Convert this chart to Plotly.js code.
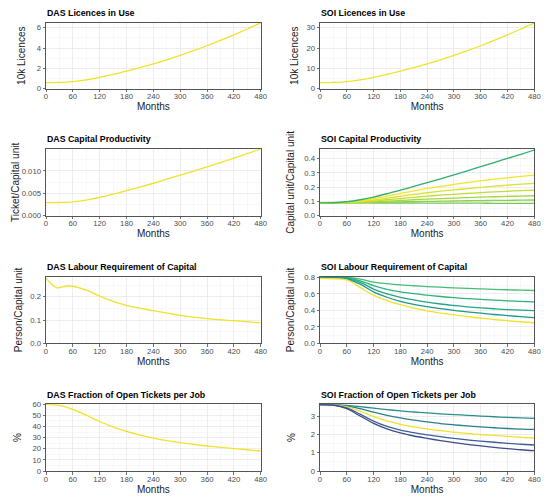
<!DOCTYPE html>
<html><head><meta charset="utf-8">
<script src="https://cdn.plot.ly/plotly-3.0.1.min.js"></script>
<style>html,body{margin:0;padding:0;background:#fff}#chart{width:550px;height:502px}</style>
</head><body><div id="chart"></div>
<script>
// ---------- data ----------
const monthTicks = [0, 60, 120, 180, 240, 300, 360, 420, 480];
const months = [0, 30, 60, 90, 120, 150, 180, 210, 240, 270, 300, 330, 360, 390, 420, 450, 480];

const dasLicences = [0.60, 0.62, 0.70, 0.87, 1.11, 1.40, 1.73, 2.08, 2.45, 2.85, 3.28, 3.74, 4.23, 4.75, 5.30, 5.88, 6.48];
const soiLicences = [3.0, 3.1, 3.5, 4.35, 5.55, 7.0, 8.65, 10.4, 12.25, 14.25, 16.4, 18.7, 21.15, 23.75, 26.5, 29.4, 32.4];

const dasCapProd = [0.00290, 0.00295, 0.00310, 0.00350, 0.00410, 0.00480, 0.00560, 0.00640, 0.00725, 0.00815, 0.00905, 0.00995, 0.01090, 0.01185, 0.01285, 0.01385, 0.01490];
const soiCapProdHigh = [0.090, 0.091, 0.098, 0.112, 0.131, 0.154, 0.179, 0.205, 0.232, 0.259, 0.287, 0.315, 0.344, 0.373, 0.402, 0.431, 0.461];
const soiCapProd1 = [0.090, 0.090, 0.094, 0.104, 0.119, 0.137, 0.156, 0.174, 0.191, 0.206, 0.220, 0.233, 0.245, 0.256, 0.266, 0.276, 0.285];
const soiCapProd2 = [0.090, 0.090, 0.093, 0.100, 0.110, 0.123, 0.136, 0.149, 0.161, 0.172, 0.181, 0.190, 0.199, 0.207, 0.214, 0.221, 0.227];
const soiCapProd3 = [0.090, 0.090, 0.092, 0.096, 0.103, 0.112, 0.120, 0.129, 0.137, 0.144, 0.150, 0.156, 0.162, 0.167, 0.171, 0.176, 0.180];
const soiCapProd4 = [0.090, 0.090, 0.091, 0.094, 0.097, 0.102, 0.107, 0.112, 0.116, 0.120, 0.123, 0.127, 0.130, 0.133, 0.135, 0.138, 0.140];
const soiCapProd5 = [0.090, 0.090, 0.090, 0.091, 0.093, 0.095, 0.097, 0.099, 0.100, 0.102, 0.103, 0.105, 0.106, 0.107, 0.108, 0.109, 0.110];
const soiCapProd6 = [0.090, 0.090, 0.090, 0.090, 0.089, 0.089, 0.089, 0.089, 0.088, 0.088, 0.088, 0.088, 0.088, 0.087, 0.087, 0.087, 0.087];

const dasLabourMonths = [0, 12, 24, 36, 48, 60, 90, 120, 150, 180, 240, 300, 360, 420, 480];
const dasLabour = [0.280, 0.255, 0.238, 0.242, 0.246, 0.245, 0.228, 0.203, 0.180, 0.163, 0.140, 0.120, 0.106, 0.097, 0.088];

const soiLabourA = [0.80, 0.80, 0.800, 0.780, 0.745, 0.725, 0.710, 0.700, 0.690, 0.682, 0.675, 0.668, 0.662, 0.656, 0.651, 0.646, 0.642];
const soiLabourB = [0.80, 0.80, 0.795, 0.760, 0.700, 0.655, 0.625, 0.603, 0.585, 0.569, 0.555, 0.544, 0.534, 0.525, 0.517, 0.510, 0.504];
const soiLabourC = [0.80, 0.80, 0.790, 0.740, 0.660, 0.600, 0.560, 0.527, 0.500, 0.478, 0.460, 0.444, 0.431, 0.420, 0.410, 0.403, 0.398];
const soiLabourD = [0.80, 0.80, 0.785, 0.720, 0.625, 0.560, 0.510, 0.473, 0.445, 0.421, 0.400, 0.382, 0.366, 0.350, 0.337, 0.324, 0.313];
const soiLabourBase = [0.79, 0.785, 0.770, 0.680, 0.585, 0.520, 0.470, 0.428, 0.395, 0.368, 0.345, 0.324, 0.305, 0.289, 0.275, 0.262, 0.250];

const dasFraction = [60, 59, 55.5, 50.2, 44.5, 39.6, 35.6, 32.3, 29.6, 27.4, 25.5, 23.9, 22.5, 21.3, 20.2, 19.1, 18.0];
const soiFractionA = [3.62, 3.62, 3.58, 3.51, 3.43, 3.35, 3.28, 3.22, 3.17, 3.12, 3.08, 3.04, 3.00, 2.96, 2.93, 2.90, 2.87];
const soiFractionB = [3.62, 3.62, 3.55, 3.40, 3.21, 3.04, 2.90, 2.78, 2.68, 2.59, 2.52, 2.46, 2.41, 2.36, 2.32, 2.29, 2.27];
const soiFractionBase = [3.62, 3.61, 3.50, 3.26, 2.97, 2.73, 2.55, 2.41, 2.30, 2.20, 2.12, 2.05, 1.99, 1.94, 1.89, 1.84, 1.80];
const soiFractionC = [3.62, 3.60, 3.45, 3.10, 2.72, 2.43, 2.23, 2.09, 1.97, 1.87, 1.78, 1.70, 1.63, 1.57, 1.51, 1.46, 1.42];
const soiFractionD = [3.62, 3.59, 3.40, 3.00, 2.60, 2.30, 2.08, 1.91, 1.78, 1.66, 1.55, 1.45, 1.37, 1.29, 1.22, 1.16, 1.11];

const panelTitles = ['DAS Licences in Use', 'SOI Licences in Use',
  'DAS Capital Productivity', 'SOI Capital Productivity',
  'DAS Labour Requirement of Capital', 'SOI Labour Requirement of Capital',
  'DAS Fraction of Open Tickets per Job', 'SOI Fraction of Open Tickets per Job'];
const yTitles = ['10k Licences', '10k Licences', 'Ticket/Capital unit', 'Capital unit/Capital unit',
  'Person/Capital unit', 'Person/Capital unit', '%', '%'];

// ---------- styling ----------
const W = 550, H = 502;
const FONT = 'Liberation Sans, Arial, Helvetica, sans-serif';
const colX = [[46, 260.7], [320, 534.3]];
const rowY = [[22.7, 88.7], [149, 215.7], [276.7, 343.3], [404.3, 471]];
const YEL = '#f0e22a';

function line(x, y, color, k) {
  return {x: x, y: y, type: 'scatter', mode: 'lines', xaxis: 'x' + (k === 1 ? '' : k), yaxis: 'y' + (k === 1 ? '' : k),
    line: {color: color, width: 1.3, shape: 'spline', smoothing: 1}, hoverinfo: 'skip', showlegend: false};
}

const traces = [
  line(months, dasLicences, YEL, 1),
  line(months, soiLicences, YEL, 2),
  line(months, dasCapProd, YEL, 3),
  line(months, soiCapProd6, '#72c95a', 4),
  line(months, soiCapProd5, '#8ccf4c', 4),
  line(months, soiCapProd4, '#a6d541', 4),
  line(months, soiCapProd3, '#c2dc33', 4),
  line(months, soiCapProd2, '#dce12c', 4),
  line(months, soiCapProd1, '#f3e629', 4),
  line(months, soiCapProdHigh, '#2fae6c', 4),
  line(dasLabourMonths, dasLabour, YEL, 5),
  line(months, soiLabourA, '#46bd72', 6),
  line(months, soiLabourB, '#2fb27c', 6),
  line(months, soiLabourC, '#22a585', 6),
  line(months, soiLabourD, '#1f978b', 6),
  line(months, soiLabourBase, YEL, 6),
  line(months, dasFraction, YEL, 7),
  line(months, soiFractionA, '#2a8e8f', 8),
  line(months, soiFractionB, '#29808e', 8),
  line(months, soiFractionBase, YEL, 8),
  line(months, soiFractionC, '#3d6098', 8),
  line(months, soiFractionD, '#414a8c', 8)
];

const yCfg = [
  {range: [0, 6.5], dtick: 2, fmt: '', minor: 1, standoff: 9},
  {range: [0, 32.5], dtick: 10, fmt: '', minor: 5, standoff: 5},
  {range: [0, 0.0149], dtick: 0.005, fmt: '.3f', minor: 0.0025, standoff: 0},
  {range: [0, 0.468], dtick: 0.1, fmt: '.1f', minor: 0.05, standoff: 7},
  {range: [0, 0.286], dtick: 0.1, fmt: '.1f', minor: 0.05, standoff: 5},
  {range: [0, 0.81], dtick: 0.2, fmt: '.1f', minor: 0.1, standoff: 7},
  {range: [0, 60], dtick: 10, fmt: '', minor: 5, standoff: 8},
  {range: [0, 3.64], dtick: 1, fmt: '', minor: 0.5, standoff: 13}
];

const common = {
  showline: true, mirror: true, linecolor: '#555555', linewidth: 1,
  ticks: 'outside', ticklen: 2.5, tickwidth: 0.7, tickcolor: '#333333',
  showgrid: true, gridcolor: '#e8e8e8', gridwidth: 0.8, zeroline: false,
  tickfont: {family: FONT, size: 7.7, color: '#4d4d4d'},
  automargin: false, fixedrange: true
};

const layout = {
  width: W, height: H, margin: {l: 0, r: 0, t: 0, b: 0},
  paper_bgcolor: '#ffffff', plot_bgcolor: '#ffffff',
  showlegend: false, font: {family: FONT},
  annotations: []
};

for (let k = 1; k <= 8; k++) {
  const col = (k - 1) % 2, row = Math.floor((k - 1) / 2);
  const sx = k === 1 ? '' : String(k);
  const c = yCfg[k - 1];
  layout['xaxis' + sx] = Object.assign({}, common, {
    domain: [colX[col][0] / W, colX[col][1] / W], anchor: 'y' + sx,
    range: [0, 480], tickmode: 'array', tickvals: monthTicks, ticktext: monthTicks.map(String),
    ticklabelstandoff: -2,
    minor: {tickvals: [30, 90, 150, 210, 270, 330, 390, 450], showgrid: true, gridcolor: '#f1f1f1', gridwidth: 0.5, ticks: ''},
    title: {text: 'Months', font: {family: FONT, size: 10, color: '#1a1a1a'}, standoff: 2}
  });
  layout['yaxis' + sx] = Object.assign({}, common, {
    domain: [1 - rowY[row][1] / H, 1 - rowY[row][0] / H], anchor: 'x' + sx,
    range: c.range, dtick: c.dtick, tick0: 0, tickformat: c.fmt,
    minor: {dtick: c.minor, tick0: 0, showgrid: true, gridcolor: '#f1f1f1', gridwidth: 0.5, ticks: ''},
    title: {text: yTitles[k - 1], font: {family: FONT, size: 10, color: '#1a1a1a'}, standoff: c.standoff}
  });
  layout.annotations.push({
    text: '<b>' + panelTitles[k - 1] + '</b>', xref: 'x' + sx + ' domain', yref: 'y' + sx + ' domain',
    x: 0, y: 1, xanchor: 'left', yanchor: 'middle', yshift: 9.5, xshift: -1, showarrow: false,
    font: {family: FONT, size: 8.8, color: '#000000'}
  });
}

Plotly.newPlot('chart', traces, layout, {displayModeBar: false, staticPlot: true});
</script></body></html>
